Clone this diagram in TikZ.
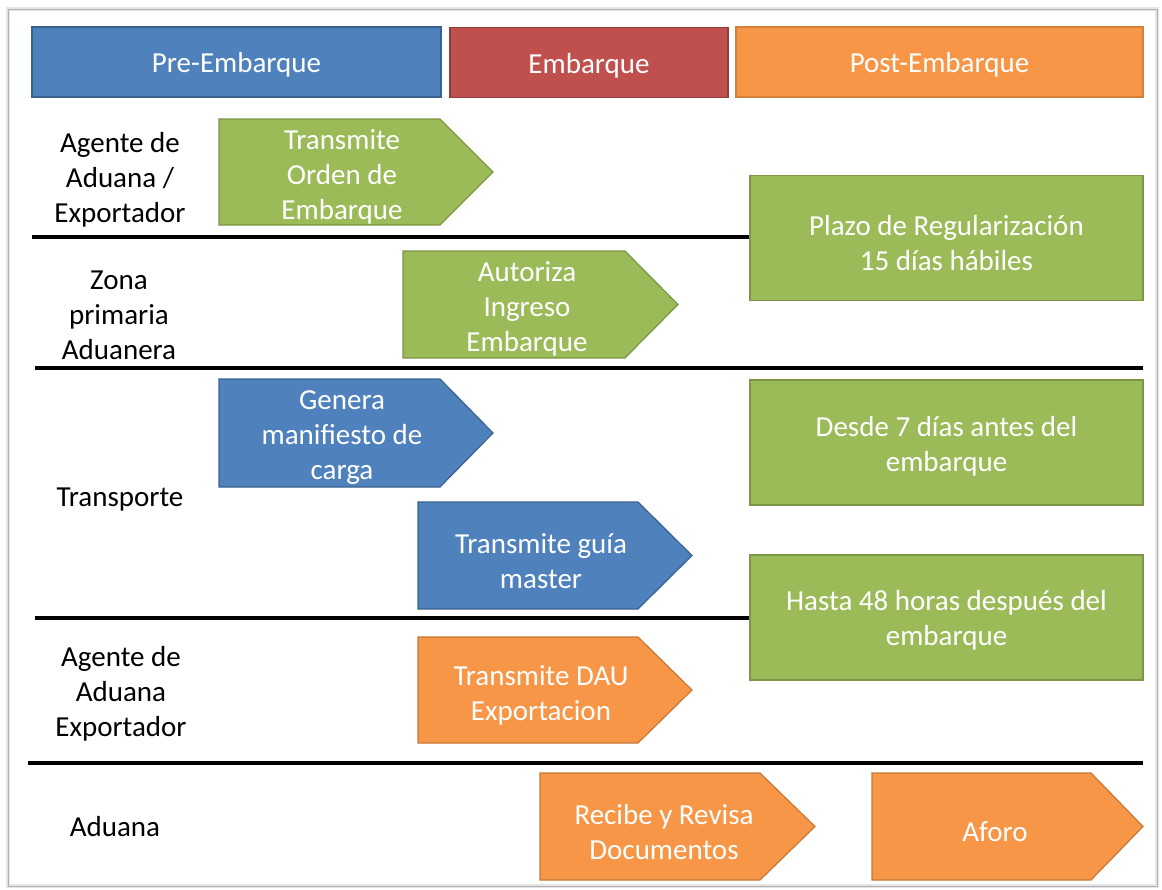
\documentclass[tikz,border=0pt]{standalone}
\usepackage{fontspec}
\setmainfont{Carlito}
\usepackage{tikz}
\usetikzlibrary{positioning}
\usepackage{xcolor}
\definecolor{preblue}{RGB}{79,129,189}
\definecolor{embred}{RGB}{192,80,77}
\definecolor{postorange}{RGB}{247,150,70}
\definecolor{stepgreen}{RGB}{155,187,89}

\begin{document}
\begin{tikzpicture}[x=1pt, y=-1pt,
  big/.style={font=\fontsize{29}{35}\selectfont, align=center},
  lane/.style={big, text=black, yshift=-3pt},
  inbox/.style={big, text=white, yshift=-3pt},
  header/.style={inner sep=0pt, minimum height=70pt, line width=1.2pt},
  plazobox/.style={fill=stepgreen, draw=stepgreen!80!black, line width=1.2pt, inner sep=0pt,
    minimum width=393pt, minimum height=125pt},
  chev/.style={line width=1.2pt, line join=miter},
  sep/.style={line width=3.2pt, black}]
  \useasboundingbox (0,0) rectangle (1162,889);
  % frame
  \draw[gray!20, line width=4pt] (8,9) rectangle (1157,886);
  \draw[gray!60, line width=0.8pt] (8,9) rectangle (1157,886);
  % phases
  \node[header, fill=preblue, draw=preblue!75!black, minimum width=409pt] (pre) at (236.5,62) {};
  \node[header, fill=embred, draw=embred!75!black, minimum width=278pt] (emb) at (589,62.5) {};
  \node[header, fill=postorange, draw=postorange!85!black, minimum width=407pt] (post) at (939.5,62) {};
  \node[inbox] (pretxt) at (pre) {Pre-Embarque};
  \node[inbox] (embtxt) at (emb) {Embarque};
  \node[inbox] (posttxt) at (post) {Post-Embarque};
  % lanes
  \node[lane] (agente) at (120,177) {Agente de\\Aduana /\\Exportador};
  \node[lane] (zona) at (119,312) {Zona\\primaria\\Aduanera};
  \node[lane] (transp) at (120,497) {Transporte};
  \node[lane] (agente2) at (121,691) {Agente de\\Aduana\\Exportador};
  \node[lane] (aduana) at (115,824) {Aduana};
  % plazos
  \node[plazobox] (plazo) at (946.5,238) {};
  \node[plazobox] (desde) at (946.5,442.5) {};
  \node[plazobox] (hasta) at (946.5,617.5) {};
  \node[inbox] (plazotxt) at (946.5,240) {Plazo de Regularización\\15 días hábiles};
  \node[inbox] (desdetxt) at (946.5,443) {Desde 7 días antes del\\embarque};
  \node[inbox] (hastatxt) at (946.5,617) {Hasta 48 horas después del\\embarque};
  % lane separators
  \draw[sep] (32,237) -- (plazo.west |- 0,237);
  \draw[sep] (35,368) -- (1143,368);
  \draw[sep] (35,618) -- (hasta.west |- 0,618);
  \draw[sep] (28,763) -- (1143,763);
  % Transmite orden
  \draw[chev, fill=stepgreen, draw=stepgreen!80!black] (219,119) -- (440,119) -- (493,172) -- (440,225) -- (219,225) -- cycle;
  \node[inbox] (orden) at (342,174) {Transmite\\Orden de\\Embarque};
  % Autoriza ingreso
  \draw[chev, fill=stepgreen, draw=stepgreen!80!black] (403,251) -- (625,251) -- (678,304.5) -- (625,358) -- (403,358) -- cycle;
  \node[inbox] (ingreso) at (527,306) {Autoriza\\Ingreso\\Embarque};
  % Genera manifiesto
  \draw[chev, fill=preblue, draw=preblue!75!black] (219,379) -- (440,379) -- (493,433) -- (440,487) -- (219,487) -- cycle;
  \node[inbox] (manif) at (342,435) {Genera\\manifiesto de\\carga};
  % Transmite guia
  \draw[chev, fill=preblue, draw=preblue!75!black] (418,502) -- (638,502) -- (692,555.5) -- (638,609) -- (418,609) -- cycle;
  \node[inbox] (guia) at (541,558) {Transmite guía\\master};
  % Transmite DAU
  \draw[chev, fill=postorange, draw=postorange!80!black] (418,637) -- (638,637) -- (692,690) -- (638,743) -- (418,743) -- cycle;
  \node[inbox] (dau) at (541,692) {Transmite DAU\\Exportacion};
  % Recibe y revisa
  \draw[chev, fill=postorange, draw=postorange!80!black] (540,773) -- (760,773) -- (815,826.5) -- (760,880) -- (540,880) -- cycle;
  \node[inbox] (recibe) at (664,829) {Recibe y Revisa\\Documentos};
  % Aforo
  \draw[chev, fill=postorange, draw=postorange!80!black] (872,773) -- (1091,773) -- (1143,826.5) -- (1091,880) -- (872,880) -- cycle;
  \node[inbox] (aforo) at (995,829) {Aforo};
\end{tikzpicture}
\end{document}
